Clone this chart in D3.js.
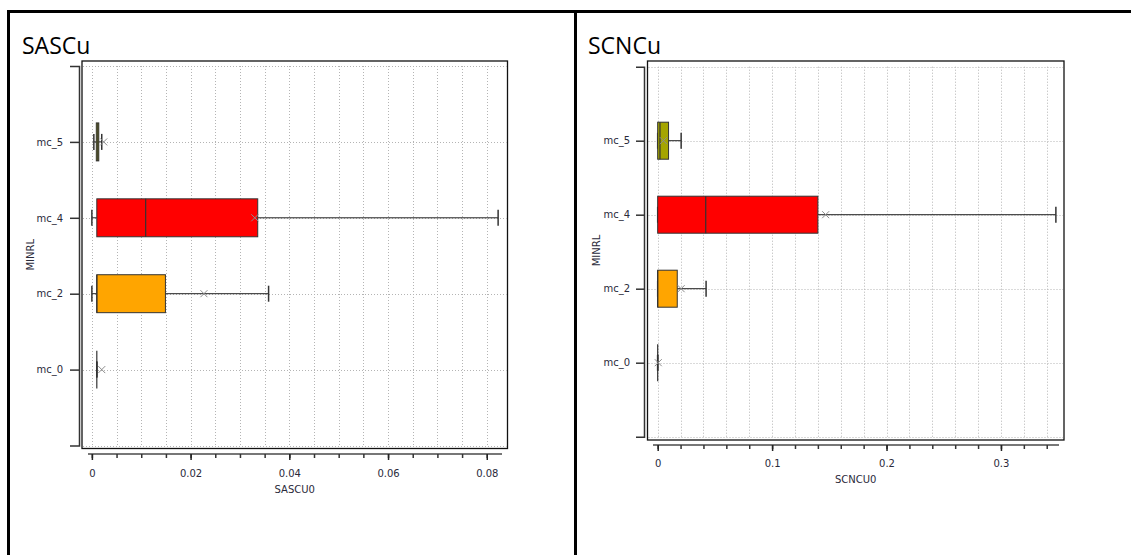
<!DOCTYPE html>
<html>
<head>
<meta charset="utf-8">
<script src="https://cdn.jsdelivr.net/npm/d3@7"></script>
<style>
  html, body { margin: 0; padding: 0; background: #fff; }
  svg { display: block; }
  .tick text { font-family: "DejaVu Sans", sans-serif; font-size: 10px; fill: #2a2a3a; }
</style>
</head>
<body>
<svg id="chart" width="1131" height="555"></svg>
<script>
// Mineral classes (shared by both panels)
const categories = ["mc_0", "mc_2", "mc_4", "mc_5"];

// SASCU0 box statistics per mineral class
const sascuMin    = [0.0010, 0.0000, 0.0000, 0.0004];
const sascuQ1     = [0.0010, 0.0010, 0.0010, 0.0009];
const sascuMedian = [0.0010, 0.0010, 0.0109, 0.0012];
const sascuQ3     = [0.0010, 0.0149, 0.0336, 0.0014];
const sascuMax    = [0.0010, 0.0358, 0.0823, 0.0020];
const sascuMean   = [0.0020, 0.0227, 0.0330, 0.0024];
const sascuTicks  = [0, 0.02, 0.04, 0.06, 0.08];
const sascuMinorStep = 0.005;

// SCNCU0 box statistics per mineral class
const scncuMin    = [0.0000, 0.0000, 0.0000, 0.0000];
const scncuQ1     = [0.0000, 0.0000, 0.0000, 0.0000];
const scncuMedian = [0.0000, 0.0000, 0.0420, 0.0020];
const scncuQ3     = [0.0000, 0.0171, 0.1400, 0.0095];
const scncuMax    = [0.0000, 0.0423, 0.3480, 0.0205];
const scncuMean   = [0.0005, 0.0205, 0.1468, 0.0050];
const scncuTicks  = [0, 0.1, 0.2, 0.3];
const scncuMinorStep = 0.02;

// Fill colour per mineral class
const classColors = { mc_0: "#a0a0a0", mc_2: "#ffa500", mc_4: "#ff0000", mc_5: "#a5a500" };

const svg = d3.select("#chart");

// Table grid lines around the two panels
svg.append("rect").attr("x", 7).attr("y", 10).attr("width", 1124).attr("height", 3).attr("fill", "#000");
svg.append("rect").attr("x", 7).attr("y", 10).attr("width", 3).attr("height", 545).attr("fill", "#000");
svg.append("rect").attr("x", 574).attr("y", 10).attr("width", 3).attr("height", 545).attr("fill", "#000");

function buildRows(minA, q1A, medA, q3A, maxA, meanA) {
  return categories.map((c, i) => ({
    cat: c, min: minA[i], q1: q1A[i], med: medA[i], q3: q3A[i], max: maxA[i], mean: meanA[i]
  }));
}

function drawPanel(cfg) {
  const g = svg.append("g");

  // Panel title
  g.append("text")
    .attr("x", cfg.titleX).attr("y", 53.5)
    .attr("font-family", "Open Sans, sans-serif").attr("font-size", 23)
    .attr("fill", "#000")
    .text(cfg.title);

  const f = cfg.frame;
  const x = d3.scaleLinear().domain(cfg.xDomain).range([f.x, f.x + f.w]);
  const y = d3.scalePoint().domain(categories).range([cfg.innerBottom, cfg.innerTop]).padding(1);
  const boxH = y.step() * 0.5;
  const capH = 16;

  // Minor grid positions
  const minor = d3.range(0, cfg.xDomain[1] + 1e-9, cfg.minorStep).map(v => +v.toFixed(6));

  // Dotted grid
  const grid = g.append("g").attr("stroke", "#b4b4b4").attr("stroke-width", 1).attr("stroke-dasharray", "1,2");
  grid.selectAll("line.v").data(minor).join("line")
    .attr("x1", d => Math.round(x(d)) + 0.5).attr("x2", d => Math.round(x(d)) + 0.5)
    .attr("y1", cfg.innerTop).attr("y2", cfg.innerBottom);
  const hVals = [cfg.innerTop, cfg.innerBottom].concat(categories.map(c => y(c)));
  grid.selectAll("line.h").data(hVals).join("line")
    .attr("x1", f.x + 1).attr("x2", f.x + f.w - 1)
    .attr("y1", d => Math.round(d) + 0.5).attr("y2", d => Math.round(d) + 0.5);

  // Plot frame
  g.append("rect")
    .attr("x", f.x).attr("y", f.y).attr("width", f.w).attr("height", f.h)
    .attr("fill", "none").attr("stroke", "#111").attr("stroke-width", 1.3);

  const rows = cfg.rows;
  const marks = g.append("g");

  // Whiskers
  marks.selectAll("line.wl").data(rows).join("line")
    .attr("x1", d => x(d.min)).attr("x2", d => x(d.q1))
    .attr("y1", d => y(d.cat)).attr("y2", d => y(d.cat))
    .attr("stroke", "#222").attr("stroke-width", 1);
  marks.selectAll("line.wr").data(rows).join("line")
    .attr("x1", d => x(d.q3)).attr("x2", d => x(d.max))
    .attr("y1", d => y(d.cat)).attr("y2", d => y(d.cat))
    .attr("stroke", "#222").attr("stroke-width", 1);
  // Whisker caps
  const caps = rows.flatMap(d => [{ cat: d.cat, v: d.min }, { cat: d.cat, v: d.max }]);
  marks.selectAll("line.cap").data(caps).join("line")
    .attr("x1", d => x(d.v)).attr("x2", d => x(d.v))
    .attr("y1", d => y(d.cat) - capH / 2).attr("y2", d => y(d.cat) + capH / 2)
    .attr("stroke", "#333").attr("stroke-width", 1.5);

  // Boxes
  marks.selectAll("rect.box").data(rows.filter(d => d.q3 > d.q1)).join("rect")
    .attr("x", d => x(d.q1)).attr("width", d => x(d.q3) - x(d.q1))
    .attr("y", d => y(d.cat) - boxH / 2).attr("height", boxH)
    .attr("fill", d => classColors[d.cat])
    .attr("stroke", "#333").attr("stroke-width", 1);
  // Medians
  marks.selectAll("line.med").data(rows).join("line")
    .attr("x1", d => x(d.med)).attr("x2", d => x(d.med))
    .attr("y1", d => y(d.cat) - boxH / 2).attr("y2", d => y(d.cat) + boxH / 2)
    .attr("stroke", "#333").attr("stroke-width", 1.2);

  // Mean markers
  const ms = 3.5;
  marks.selectAll("path.mean").data(rows).join("path")
    .attr("d", d => {
      const cx = x(d.mean), cy = y(d.cat);
      return `M${cx - ms},${cy - ms}L${cx + ms},${cy + ms}M${cx - ms},${cy + ms}L${cx + ms},${cy - ms}`;
    })
    .attr("fill", "none").attr("stroke", "#8c8c8c").attr("stroke-width", 1);

  // Category axis (bracket form)
  const yAxis = g.append("g")
    .attr("transform", `translate(${cfg.yAxisX},0)`)
    .call(d3.axisLeft(y).tickSize(cfg.yTick).tickSizeOuter(cfg.yTick).tickPadding(cfg.yPad));
  yAxis.select(".domain").attr("stroke", "#333").attr("stroke-width", 1.5);
  yAxis.selectAll(".tick line").attr("stroke", "#333").attr("stroke-width", 1.5);

  // Value axis
  const xAxisG = g.append("g").attr("transform", `translate(0,${cfg.xAxisY})`);
  xAxisG.append("line")
    .attr("x1", cfg.xAxisStart).attr("x2", cfg.xAxisEnd)
    .attr("stroke", "#777").attr("stroke-width", 2);
  const minorAxis = xAxisG.append("g")
    .call(d3.axisBottom(x).tickValues(minor).tickSize(4).tickFormat(""));
  minorAxis.select(".domain").remove();
  minorAxis.selectAll(".tick line").attr("stroke", "#333").attr("stroke-width", 1.5);
  const majorAxis = xAxisG.append("g")
    .call(d3.axisBottom(x).tickValues(cfg.ticks).tickSize(6).tickPadding(cfg.xPad).tickFormat(d => String(d)));
  majorAxis.select(".domain").remove();
  majorAxis.selectAll(".tick line").attr("stroke", "#222").attr("stroke-width", 1.5);

  // Axis titles
  g.append("text")
    .attr("x", f.x + f.w / 2).attr("y", cfg.xTitleY)
    .attr("text-anchor", "middle")
    .attr("font-family", "DejaVu Sans, sans-serif").attr("font-size", 10).attr("fill", "#2a2a3a")
    .text(cfg.xTitle);
  g.append("text")
    .attr("transform", `translate(${cfg.yTitleX},${f.y + f.h / 2}) rotate(-90)`)
    .attr("text-anchor", "middle")
    .attr("font-family", "DejaVu Sans, sans-serif").attr("font-size", 10).attr("fill", "#2a2a3a")
    .text("MINRL");
}

drawPanel({
  title: "SASCu", titleX: 22,
  frame: { x: 82, y: 61, w: 425.5, h: 387.5 },
  innerTop: 66, innerBottom: 445.5,
  xDomain: [-0.002, 0.0842],
  minorStep: sascuMinorStep, ticks: sascuTicks,
  rows: buildRows(sascuMin, sascuQ1, sascuMedian, sascuQ3, sascuMax, sascuMean),
  yAxisX: 79, yTick: 9, yPad: 7,
  xAxisY: 454, xAxisStart: 88, xAxisEnd: 502, xPad: 10,
  xTitle: "SASCU0", xTitleY: 492.5, yTitleX: 34
});

drawPanel({
  title: "SCNCu", titleX: 588,
  frame: { x: 647.5, y: 61, w: 416.5, h: 379 },
  innerTop: 66.7, innerBottom: 436.7,
  xDomain: [-0.0089, 0.3551],
  minorStep: scncuMinorStep, ticks: scncuTicks,
  rows: buildRows(scncuMin, scncuQ1, scncuMedian, scncuQ3, scncuMax, scncuMean),
  yAxisX: 644, yTick: 8, yPad: 6,
  xAxisY: 445, xAxisStart: 653, xAxisEnd: 1059, xPad: 9,
  xTitle: "SCNCU0", xTitleY: 482.5, yTitleX: 600
});
</script>
</body>
</html>
